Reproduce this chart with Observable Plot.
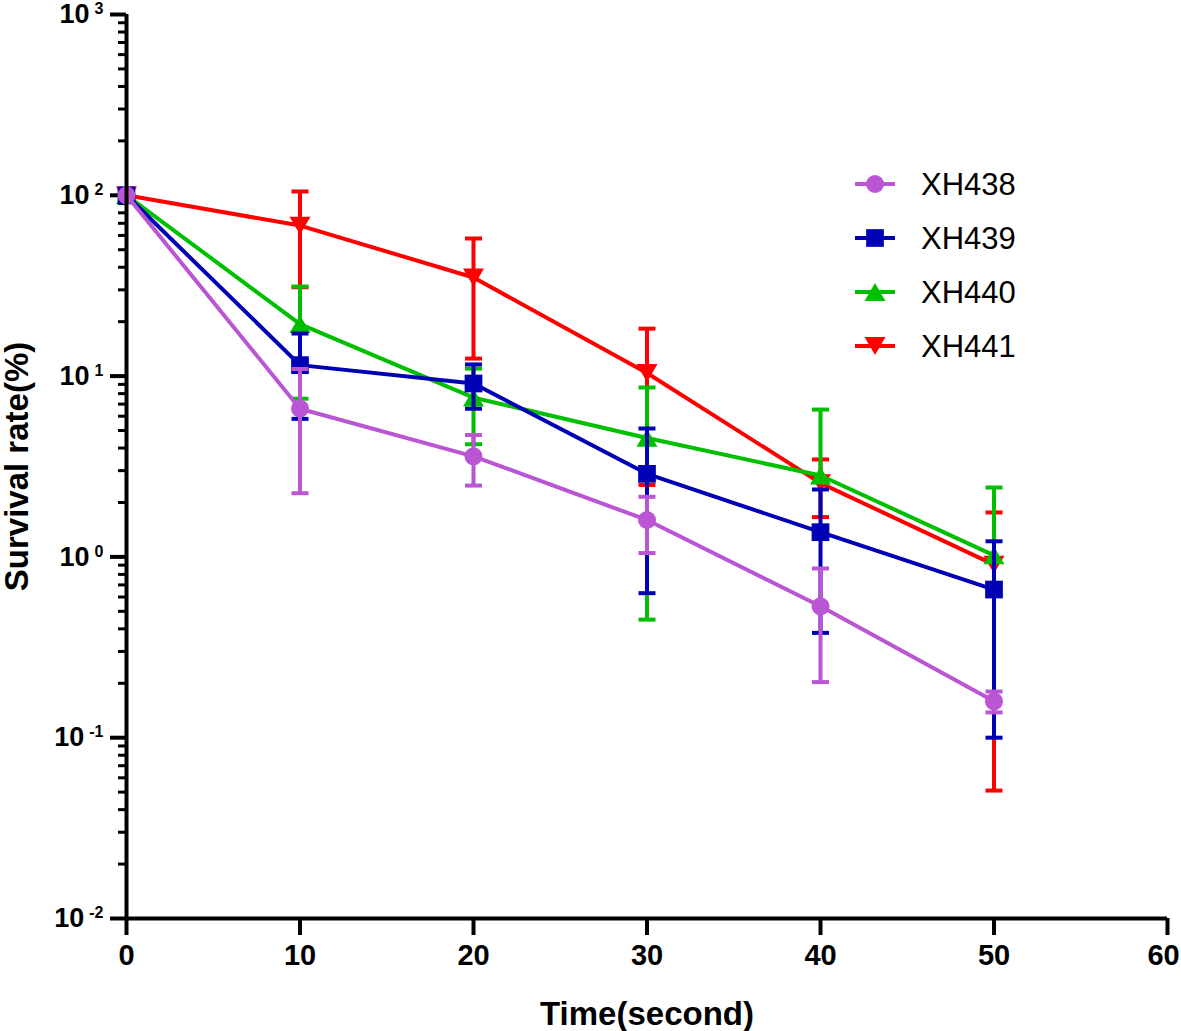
<!DOCTYPE html>
<html><head><meta charset="utf-8">
<script src="https://cdn.jsdelivr.net/npm/d3@7"></script>
<script src="https://cdn.jsdelivr.net/npm/@observablehq/plot@0.6"></script>
<style>
body{margin:0;background:#fff;}
#wrap{position:relative;width:1181px;height:1031px;font-family:Arial,"Liberation Sans",sans-serif;}
#wrap svg{overflow:visible;}
#legend{position:absolute;left:853px;top:157px;}
.row{display:flex;align-items:center;height:54px;}
.row span{font-size:31px;margin-left:24px;color:#000;line-height:1;}
</style></head><body><div id="wrap"><div id="legend"></div></div>
<script>
// ---- data ----
const times = [0, 10, 20, 30, 40, 50];
const seriesNames = ["XH438", "XH439", "XH440", "XH441"];
const seriesColors = ["#BA55D3", "#0000B4", "#00BE00", "#FF0000"];
const xh438Mean = [100, 6.6, 3.6, 1.6, 0.533, 0.159];
const xh438Sd   = [0, 4.35, 1.12, 0.55, 0.33, 0.021];
const xh439Mean = [100, 11.5, 9.1, 2.88, 1.37, 0.66];
const xh439Sd   = [0, 5.7, 2.5, 2.25, 0.99, 0.56];
const xh440Mean = [100, 19.4, 7.6, 4.55, 2.82, 1.02];
const xh440Sd   = [0, 11.9, 3.4, 4.1, 3.71, 1.40];
const xh441Mean = [100, 68, 35.1, 10.4, 2.56, 0.906];
const xh441Sd   = [0, 37, 22.6, 7.9, 0.9, 0.855];
const xTicks = [0, 10, 20, 30, 40, 50, 60];
const yMajor = [0.01, 0.1, 1, 10, 100, 1000];
const minorMultipliers = [2, 3, 4, 5, 6, 7, 8, 9];

const means = [xh438Mean, xh439Mean, xh440Mean, xh441Mean];
const sds = [xh438Sd, xh439Sd, xh440Sd, xh441Sd];
const yMinor = yMajor.slice(0, -1).flatMap(d => minorMultipliers.map(m => d * m));

// ---- symbols ----
function rOf(size) { return Math.sqrt(size / Math.PI); }
const capSym = {draw(ctx, size) { const r = rOf(size); ctx.moveTo(-r, 0); ctx.lineTo(r, 0); }};
const triUp = {draw(ctx, size) { const r = rOf(size), h = r * 0.85; ctx.moveTo(0, -h); ctx.lineTo(r, h); ctx.lineTo(-r, h); ctx.closePath(); }};
const triDown = {draw(ctx, size) { const r = rOf(size), h = r * 0.85; ctx.moveTo(-r, -h); ctx.lineTo(r, -h); ctx.lineTo(0, h); ctx.closePath(); }};
const symbols = ["circle", "square", triUp, triDown];
const symR = [9, 10, 10.5, 10.5];

const rowsBy = seriesNames.map((name, i) => times.map((t, j) => {
  const m = means[i][j], s = sds[i][j];
  return {series: name, x: t, y: m, sd: s, hi: m + s, lo: m - s > 0 ? m - s : m, hasLo: s > 0 && m - s > 0};
}));

const marks = [];
// drawing order: XH441, XH440, XH439, XH438
for (const i of [3, 2, 1, 0]) {
  const rows = rowsBy[i], c = seriesColors[i];
  const err = rows.filter(d => d.sd > 0);
  marks.push(
    Plot.line(rows, {x: "x", y: "y", stroke: c, strokeWidth: 4}),
    Plot.link(err, {x1: "x", x2: "x", y1: "lo", y2: "hi", stroke: c, strokeWidth: 4}),
    Plot.dot(err, {x: "x", y: "hi", symbol: capSym, r: 8.5, stroke: c, strokeWidth: 4, fill: "none"}),
    Plot.dot(rows.filter(d => d.hasLo), {x: "x", y: "lo", symbol: capSym, r: 8.5, stroke: c, strokeWidth: 4, fill: "none"}),
    Plot.dot(rows, {x: "x", y: "y", symbol: symbols[i], r: symR[i], fill: c, stroke: "none"})
  );
}

const chart = Plot.plot({
  width: 1181, height: 1031,
  marginLeft: 126, marginRight: 14, marginTop: 14, marginBottom: 113,
  style: {fontFamily: "Arial, 'Liberation Sans', sans-serif", color: "#000", background: "#fff", overflow: "visible"},
  x: {domain: [0, 60]},
  y: {type: "log", domain: [0.01, 1000]},
  marks: [
    Plot.axisY({ticks: yMinor, tickSize: 8, strokeWidth: 3, tickFormat: () => "", label: null}),
    Plot.axisY({ticks: yMajor, tickSize: 16, strokeWidth: 4, tickPadding: 7,
      tickFormat: d => "10^" + Math.round(Math.log10(d)),
      label: "Survival rate(%)", labelAnchor: "center", labelArrow: "none", labelOffset: 122}),
    Plot.axisX({ticks: xTicks, tickSize: 17, strokeWidth: 4, tickPadding: 9,
      tickFormat: d => String(d),
      label: "Time(second)", labelAnchor: "center", labelArrow: "none", labelOffset: 106}),
    ...marks,
    Plot.ruleX([0], {stroke: "#000", strokeWidth: 4}),
    Plot.ruleY([0.01], {stroke: "#000", strokeWidth: 4})
  ]
});

const svg = d3.select(chart);
svg.selectAll("text").each(function() {
  const s = this.textContent;
  const t = d3.select(this);
  if (/^10\^-?\d+$/.test(s)) {
    // y tick labels with superscript exponents
    const [b, e] = s.split("^");
    t.style("font-size", "27px").style("font-weight", "bold");
    t.text("");
    t.append("tspan").text(b);
    t.append("tspan").attr("dx", 5).attr("dy", -9).style("font-size", "16px").text(e);
  } else if (/^\d+$/.test(s)) {
    // x tick labels
    t.style("font-size", "29px").style("font-weight", "bold");
    if (s === String(xTicks[xTicks.length - 1])) t.attr("dx", -4);
  } else if (s === "Time(second)" || s === "Survival rate(%)") {
    t.style("font-size", "33px").style("font-weight", "bold");
  }
});

const wrap = document.getElementById("wrap");
wrap.insertBefore(chart, wrap.firstChild);

// legend
const legend = document.getElementById("legend");
seriesNames.forEach((name, i) => {
  const row = document.createElement("div");
  row.className = "row";
  const sw = d3.create("svg").attr("width", 44).attr("height", 24);
  sw.append("line").attr("x1", 2).attr("x2", 42).attr("y1", 12).attr("y2", 12)
    .attr("stroke", seriesColors[i]).attr("stroke-width", 4);
  const sym = d3.symbol(typeof symbols[i] === "string" ? (symbols[i] === "circle" ? d3.symbolCircle : d3.symbolSquare) : symbols[i], Math.PI * symR[i] * symR[i]);
  sw.append("path").attr("d", sym()).attr("transform", "translate(22,12)").attr("fill", seriesColors[i]);
  row.appendChild(sw.node());
  const sp = document.createElement("span");
  sp.textContent = name;
  row.appendChild(sp);
  legend.appendChild(row);
});
</script></body></html>
